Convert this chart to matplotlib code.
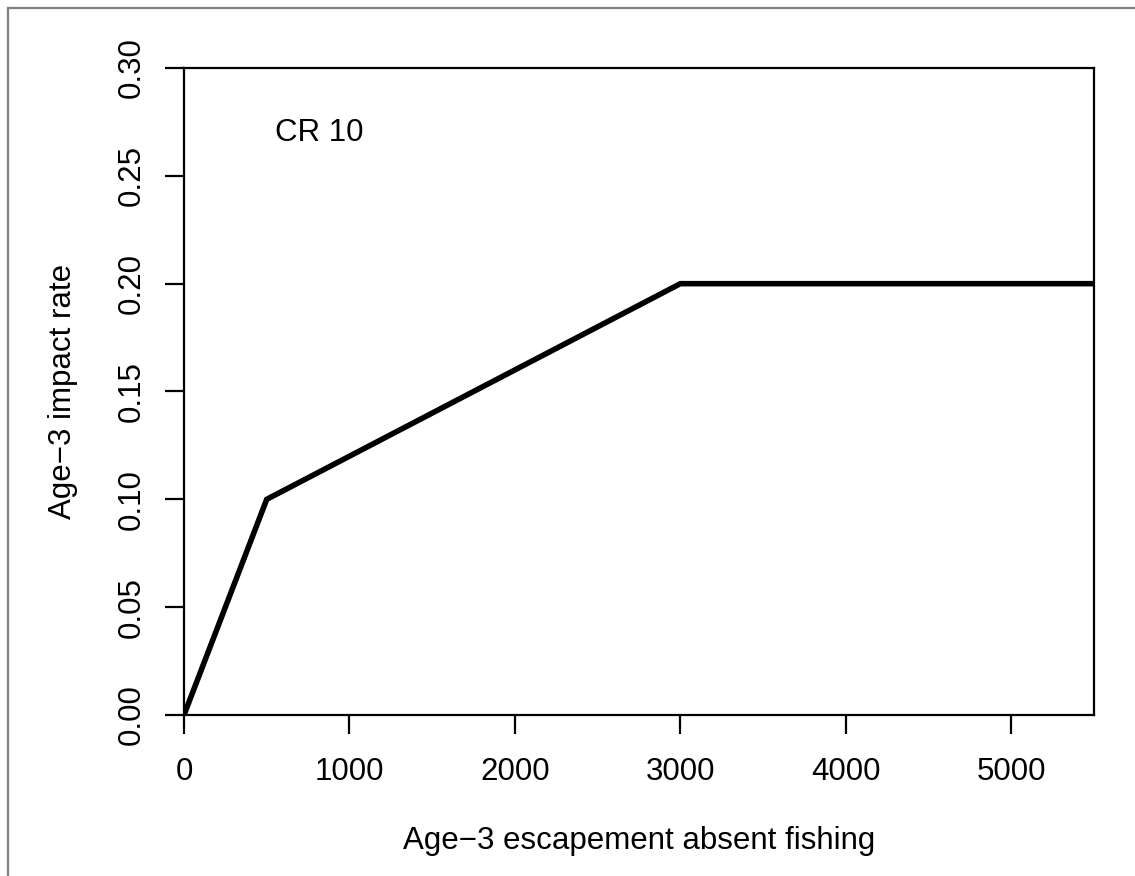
import matplotlib
matplotlib.use("Agg")
import matplotlib.pyplot as plt
from matplotlib.lines import Line2D

escapement = [0, 500, 3000, 5500]
impact_rate = [0.0, 0.10, 0.20, 0.20]
x_ticks = [0, 1000, 2000, 3000, 4000, 5000]
y_ticks = [0.00, 0.05, 0.10, 0.15, 0.20, 0.25, 0.30]
y_tick_labels = ["0.00", "0.05", "0.10", "0.15", "0.20", "0.25", "0.30"]

plt.rcParams['font.family'] = ['Liberation Sans', 'DejaVu Sans']
W, H = 1135, 876
fig = plt.figure(figsize=(W / 100, H / 100), dpi=100)

# outer gray frame (top and left visible)
fig.add_artist(Line2D([8 / W, 1.0], [1 - 8 / H, 1 - 8 / H], transform=fig.transFigure,
                      color="#808080", lw=1.6))
fig.add_artist(Line2D([8 / W, 8 / W], [0.0, 1 - 8 / H], transform=fig.transFigure,
                      color="#808080", lw=1.6))

ax = fig.add_axes([184 / W, 1 - 715 / H, (1094 - 184) / W, (715 - 68) / H])
ax.plot(escapement, impact_rate, color="black", lw=4.0, solid_capstyle="butt",
        solid_joinstyle="miter", clip_on=True)
ax.set_xlim(0, 5500)
ax.set_ylim(0, 0.30)
ax.set_xticks(x_ticks)
ax.set_xticklabels([str(v) for v in x_ticks])
ax.set_yticks(y_ticks)
ax.set_yticklabels(y_tick_labels, rotation=90, va="center")
for s in ax.spines.values():
    s.set_linewidth(1.6)
ax.tick_params(axis="both", direction="out", length=13.5, width=1.6, labelsize=22.5)
ax.tick_params(axis="x", pad=17)
ax.tick_params(axis="y", pad=13)
ax.set_xlabel("Age\u22123 escapement absent fishing", fontsize=22.5, labelpad=28)
ax.set_ylabel("Age\u22123 impact rate", fontsize=22.5, labelpad=28)
ax.text(820, 0.27, "CR 10", fontsize=22.5, ha="center", va="center")

fig.savefig("out.png", dpi=100)
